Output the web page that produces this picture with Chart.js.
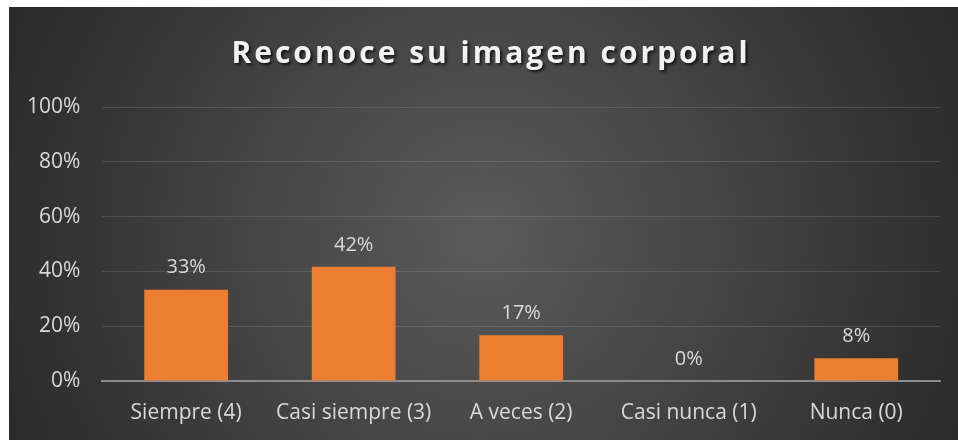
<!DOCTYPE html>
<html>
<head>
<meta charset="utf-8">
<script src="https://cdn.jsdelivr.net/npm/chart.js@4.4.0/dist/chart.umd.min.js"></script>
<style>
  html, body { margin: 0; padding: 0; background: #ffffff; }
  #wrap { position: relative; width: 958px; height: 440px; }
</style>
</head>
<body>
<div id="wrap"><canvas id="chart" width="958" height="440"></canvas></div>
<script>
    // datos del gráfico
    var titleText = 'Reconoce su imagen corporal';
    var categories = ['Siempre (4)', 'Casi siempre (3)', 'A veces (2)', 'Casi nunca (1)', 'Nunca (0)'];
    var values = [33.33, 41.67, 16.67, 0, 8.33];
    var yTicks = [0, 20, 40, 60, 80, 100];

    var FONT = "'Open Sans', sans-serif";
    var TXT = '#d9d9d9';

    /* fondo: panel oscuro con degradado radial */
    var bgPlugin = {
        id: 'bgPanel',
        beforeDraw: function (chart) {
            var ctx = chart.ctx;
            ctx.save();
            ctx.fillStyle = '#ffffff';
            ctx.fillRect(0, 0, chart.width, chart.height);
            var g = ctx.createRadialGradient(483, 235, 10, 483, 235, 560);
            g.addColorStop(0, '#5a5a5a');
            g.addColorStop(1, '#262626');
            ctx.fillStyle = g;
            ctx.fillRect(9, 7, chart.width - 9, chart.height - 7);
            ctx.restore();
        }
    };

    /* título con espaciado y sombra */
    var titlePlugin = {
        id: 'fancyTitle',
        afterDraw: function (chart) {
            var ctx = chart.ctx;
            ctx.save();
            ctx.font = 'bold 30px ' + FONT;
            ctx.letterSpacing = '3px';
            ctx.textAlign = 'center';
            ctx.textBaseline = 'middle';
            ctx.shadowColor = 'rgba(0,0,0,0.7)';
            ctx.shadowOffsetX = 2;
            ctx.shadowOffsetY = 2;
            ctx.shadowBlur = 3;
            ctx.fillStyle = '#f2f2f2';
            ctx.fillText(titleText, 491, 54);
            ctx.restore();
        }
    };

    /* etiquetas de valor encima de cada barra */
    var labelPlugin = {
        id: 'valueLabels',
        afterDatasetsDraw: function (chart) {
            var ctx = chart.ctx;
            var meta = chart.getDatasetMeta(0);
            ctx.save();
            ctx.font = '20px ' + FONT;
            ctx.fillStyle = TXT;
            ctx.textAlign = 'center';
            ctx.textBaseline = 'middle';
            meta.data.forEach(function (bar, i) {
                ctx.fillText(Math.round(values[i]) + '%', bar.x, bar.y - 22);
            });
            ctx.restore();
        }
    };

    new Chart(document.getElementById('chart'), {
        type: 'bar',
        data: {
            labels: categories,
            datasets: [{
                data: values,
                backgroundColor: '#ed7d31',
                borderWidth: 0,
                categoryPercentage: 1,
                barPercentage: 0.5
            }]
        },
        options: {
            responsive: false,
            animation: false,
            layout: { padding: { top: 107, right: 18, left: 5, bottom: 0 } },
            plugins: {
                legend: { display: false },
                tooltip: { enabled: false }
            },
            scales: {
                y: {
                    min: 0,
                    max: 100,
                    afterBuildTicks: function (s) {
                        s.ticks = yTicks.map(function (v) { return { value: v }; });
                    },
                    ticks: {
                        color: TXT,
                        padding: 22,
                        font: { family: FONT, size: 21 },
                        callback: function (v) { return v + '%'; }
                    },
                    grid: { color: 'rgba(255,255,255,0.12)', lineWidth: 1, drawTicks: false },
                    border: { display: false }
                },
                x: {
                    afterFit: function (s) { s.height = 59; },
                    ticks: {
                        color: TXT,
                        padding: 19,
                        font: { family: FONT, size: 21 }
                    },
                    grid: { display: false, drawTicks: false },
                    border: { display: true, color: '#8c8c8c', width: 2 }
                }
            }
        },
        plugins: [bgPlugin, titlePlugin, labelPlugin]
    });
</script>
</body>
</html>
